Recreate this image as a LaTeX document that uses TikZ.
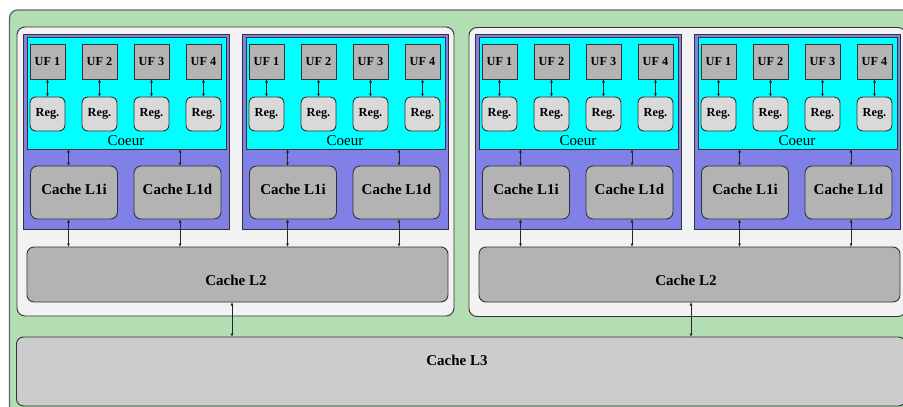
\documentclass[tikz,border=0pt]{standalone}
\usepackage{fontspec}
\setmainfont{Liberation Serif}
\usetikzlibrary{arrows.meta}

\definecolor{boardgreen}{RGB}{179,222,179}
\definecolor{procgray}{RGB}{242,242,242}
\definecolor{coreblue}{RGB}{128,128,230}
\definecolor{corecyan}{RGB}{0,255,255}
\definecolor{unitgray}{RGB}{179,179,179}
\definecolor{reggray}{RGB}{217,217,217}
\definecolor{lthreegray}{RGB}{204,204,204}

\tikzset{
  wh/.style 2 args={minimum width=#1pt, minimum height=#2pt},
  blk/.style={draw=black!80, line width=0.9pt, outer sep=0pt, inner sep=0pt, anchor=north west},
  boardbox/.style={blk, draw=black!60, line width=1.3pt, fill=boardgreen, rounded corners=8pt},
  procbox/.style={blk, fill=procgray, rounded corners=8pt, wh={437}{289}},
  corebox/.style={blk, fill=coreblue, wh={206}{195}},
  cyanbox/.style={blk, fill=corecyan, wh={199}{112}},
  ufbox/.style={blk, fill=unitgray, wh={35}{35}, font=\fontsize{12.3}{14}\selectfont\bfseries},
  regbox/.style={blk, fill=reggray, rounded corners=6pt, wh={35}{34}, font=\fontsize{12.3}{14}\selectfont\bfseries},
  lonebox/.style={blk, fill=unitgray, rounded corners=7pt, wh={87}{53}},
  ltwobox/.style={blk, fill=unitgray, rounded corners=7pt, wh={421}{55}},
  lthreebox/.style={blk, fill=lthreegray, rounded corners=7pt, wh={889}{69}},
  cachelbl/.style={inner sep=0pt, font=\fontsize{15}{17}\selectfont\bfseries},
  coeurlbl/.style={inner sep=0pt, font=\fontsize{15}{17}\selectfont},
  link/.style={draw=black!85, line width=0.8pt, {Latex[length=3.5pt,width=3pt]}-{Latex[length=3.5pt,width=3pt]}},
}

\begin{document}
\begin{tikzpicture}[x=1pt, y=-1pt]
\useasboundingbox (0,0) rectangle (903,407);

% chip and shared last-level cache
\node[boardbox, wh={903}{404}] (board) at (9.5,10) {};
\node[lthreebox] (lthree) at (16.5,337) {};
\node[cachelbl] (lthreelbl) at (457,360) {Cache L3};

% the two processors with their L2 caches
\node[procbox] (proca) at (17,27) {};
\node[procbox] (procb) at (469,27.5) {};
\node[ltwobox] (ltwoa) at (27,247) {};
\node[ltwobox] (ltwob) at (479,247) {};
\node[cachelbl] (ltwoalbl) at (236,280) {Cache L2};
\node[cachelbl] (ltwoblbl) at (686,280) {Cache L2};

\coordinate (busa) at (232,0);
\coordinate (busb) at (691,0);
\draw[link] (ltwoa.south -| busa) -- (lthree.north -| busa);
\draw[link] (ltwob.south -| busb) -- (lthree.north -| busb);

% four cores
\foreach \c/\n/\p in {23/1/a, 242/2/a, 475/3/b, 694/4/b} {
  \node[corebox] (core\n) at (\c,34) {};
  \node[cyanbox] (cy\n) at (\c+4,37) {};
  \node[coeurlbl] (coeur\n) at (\c+103,141) {Coeur};
  \foreach \i in {1,...,4} {
    \pgfmathsetmacro\ux{\c+7+52*(\i-1)}
    \node[ufbox] (uf\n\i) at (\ux,44) {UF \i};
    \node[regbox] (reg\n\i) at (\ux,97) {Reg.};
    \draw[link] (uf\n\i) -- (reg\n\i);
  }
  \node[lonebox] (lonei\n) at (\c+7.5,166) {};
  \node[lonebox] (loned\n) at (\c+111,166) {};
  \node[cachelbl] (loneilbl\n) at (\c+51,189) {Cache L1i};
  \node[cachelbl] (lonedlbl\n) at (\c+154.5,189) {Cache L1d};
  \coordinate (ai\n) at (\c+45.5,0);
  \coordinate (ad\n) at (\c+157,0);
  \draw[link] (cy\n.south -| ai\n) -- (lonei\n.north -| ai\n);
  \draw[link] (cy\n.south -| ad\n) -- (loned\n.north -| ad\n);
  \draw[link] (lonei\n.south -| ai\n) -- (ltwo\p.north -| ai\n);
  \draw[link] (loned\n.south -| ad\n) -- (ltwo\p.north -| ad\n);
}
\end{tikzpicture}
\end{document}
